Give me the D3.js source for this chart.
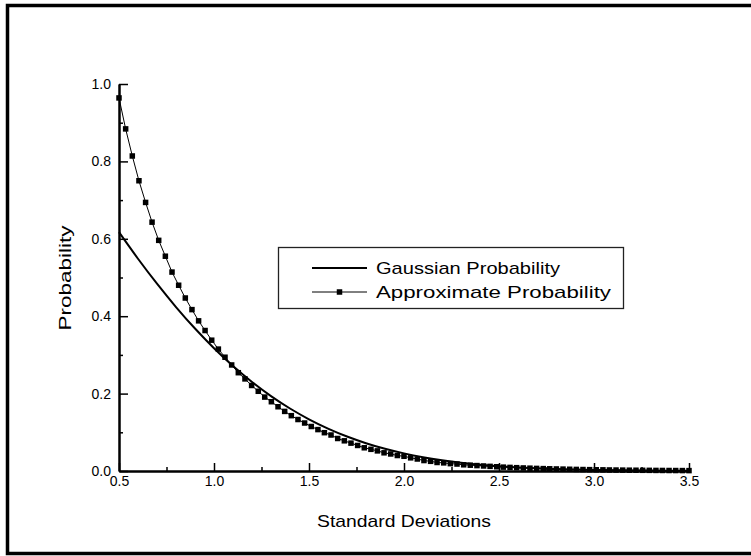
<!DOCTYPE html>
<html>
<head>
<meta charset="utf-8">
<script src="https://cdn.jsdelivr.net/npm/d3@7"></script>
<style>
  html, body { margin: 0; padding: 0; background: #fff; }
  svg { display: block; font-family: "Liberation Sans", Arial, sans-serif; }
</style>
</head>
<body>
<svg id="chart" width="751" height="556"></svg>
<script>
// Two-sided tail probability of a Gaussian, sampled every 0.1 standard deviations
const gaussX = [0.5,0.6,0.7,0.8,0.9,1.0,1.1,1.2,1.3,1.4,1.5,1.6,1.7,1.8,1.9,2.0,2.1,2.2,2.3,2.4,2.5,2.6,2.7,2.8,2.9,3.0,3.1,3.2,3.3,3.4,3.5];
const gaussY = [0.6171,0.5485,0.4839,0.4237,0.3681,0.3173,0.2713,0.2301,0.1936,0.1615,0.1336,0.1096,0.0891,0.0719,0.0574,0.0455,0.0357,0.0278,0.0214,0.0164,0.0124,0.0093,0.0069,0.0051,0.0037,0.0027,0.0019,0.0014,0.0010,0.0007,0.0005];

// Approximate probability, one sample per marker
const approxX = [0.500,0.535,0.570,0.605,0.640,0.674,0.709,0.744,0.779,0.814,0.849,0.884,0.919,0.953,0.988,1.023,1.058,1.093,1.128,1.163,1.198,1.233,1.267,1.302,1.337,1.372,1.407,1.442,1.477,1.512,1.547,1.581,1.616,1.651,1.686,1.721,1.756,1.791,1.826,1.860,1.895,1.930,1.965,2.000,2.035,2.070,2.105,2.140,2.174,2.209,2.244,2.279,2.314,2.349,2.384,2.419,2.453,2.488,2.523,2.558,2.593,2.628,2.663,2.698,2.733,2.767,2.802,2.837,2.872,2.907,2.942,2.977,3.012,3.047,3.081,3.116,3.151,3.186,3.221,3.256,3.291,3.326,3.360,3.395,3.430,3.465,3.500];
const approxY = [0.964,0.884,0.814,0.750,0.694,0.643,0.596,0.555,0.514,0.480,0.447,0.417,0.388,0.363,0.338,0.315,0.294,0.274,0.254,0.238,0.221,0.206,0.191,0.179,0.166,0.154,0.143,0.133,0.124,0.115,0.107,0.099,0.093,0.084,0.078,0.072,0.066,0.060,0.056,0.052,0.047,0.044,0.040,0.038,0.034,0.031,0.027,0.025,0.022,0.021,0.019,0.018,0.016,0.015,0.014,0.013,0.012,0.011,0.010,0.0093,0.0086,0.0079,0.0073,0.0067,0.0062,0.0057,0.0053,0.0049,0.0045,0.0041,0.0038,0.0035,0.0032,0.0030,0.0027,0.0025,0.0023,0.0021,0.0020,0.0018,0.0017,0.0015,0.0014,0.0013,0.0012,0.0011,0.0010];

const xMajor = [0.5,1.0,1.5,2.0,2.5,3.0,3.5];
const xMinor = [0.75,1.25,1.75,2.25,2.75,3.25];
const yMajor = [0.0,0.2,0.4,0.6,0.8,1.0];
const yMinor = [0.1,0.3,0.5,0.7,0.9];
const seriesNames = ["Gaussian Probability","Approximate Probability"];
const xTitle = "Standard Deviations";
const yTitle = "Probability";

const svg = d3.select("#chart");

// outer frame (top, left, bottom edges)
svg.append("path")
  .attr("d","M751,5.5 H7.5 V553.5 H751")
  .attr("fill","none").attr("stroke","#000").attr("stroke-width",3.5);

const x = d3.scaleLinear().domain([0.5,3.5]).range([119,689]);
const y = d3.scaleLinear().domain([0,1]).range([471,84]);

// axes: ticks point into the plot
const xAxisMajor = d3.axisBottom(x).tickValues(xMajor).tickFormat(d3.format(".1f")).tickSizeInner(-8).tickSizeOuter(0).tickPadding(5);
const xAxisMinor = d3.axisBottom(x).tickValues(xMinor).tickFormat("").tickSizeInner(-4).tickSizeOuter(0);
const yAxisMajor = d3.axisLeft(y).tickValues(yMajor).tickFormat(d3.format(".1f")).tickSizeInner(-9).tickSizeOuter(0).tickPadding(8);
const yAxisMinor = d3.axisLeft(y).tickValues(yMinor).tickFormat("").tickSizeInner(-4).tickSizeOuter(0);

function styleAxis(g){
  g.select(".domain").attr("stroke","#000").attr("stroke-width",2);
  g.selectAll(".tick line").attr("stroke","#000").attr("stroke-width",1.5);
  g.selectAll(".tick text").attr("fill","#000").attr("font-size",14).attr("font-family","Liberation Sans, Arial, sans-serif");
}
svg.append("g").attr("transform","translate(0,471)").call(xAxisMinor).call(styleAxis);
svg.append("g").attr("transform","translate(0,471)").call(xAxisMajor).call(styleAxis);
svg.append("g").attr("transform","translate(119,0)").call(yAxisMinor).call(styleAxis);
svg.append("g").attr("transform","translate(119,0)").call(yAxisMajor).call(styleAxis);

// axis titles
svg.append("text").attr("x",404).attr("y",527).attr("text-anchor","middle")
  .attr("font-size",17).attr("textLength",174).attr("lengthAdjust","spacingAndGlyphs").text(xTitle);
svg.append("text").attr("transform","translate(71,278) rotate(-90)").attr("text-anchor","middle")
  .attr("font-size",17).attr("textLength",105).attr("lengthAdjust","spacingAndGlyphs").text(yTitle);

// series
const gaussData = gaussX.map((v,i)=>[v,gaussY[i]]);
const approxData = approxX.map((v,i)=>[v,approxY[i]]);
const line = d3.line().x(d=>x(d[0])).y(d=>y(d[1]));

svg.append("path").datum(approxData)
  .attr("d",line).attr("fill","none").attr("stroke","#000").attr("stroke-width",1);
svg.append("path").datum(gaussData)
  .attr("d",line.curve(d3.curveCatmullRom)).attr("fill","none").attr("stroke","#000").attr("stroke-width",2);

const ms = 5.5;
svg.append("g").selectAll("rect").data(approxData).join("rect")
  .attr("x",d=>x(d[0])-ms/2).attr("y",d=>y(d[1])-ms/2)
  .attr("width",ms).attr("height",ms).attr("fill","#000");

// legend
const lg = svg.append("g");
lg.append("rect").attr("x",278.5).attr("y",247.5).attr("width",345).attr("height",61)
  .attr("fill","#fff").attr("stroke","#222").attr("stroke-width",1.3);
lg.append("line").attr("x1",312).attr("x2",367).attr("y1",268).attr("y2",268).attr("stroke","#000").attr("stroke-width",2);
lg.append("line").attr("x1",312).attr("x2",367).attr("y1",292).attr("y2",292).attr("stroke","#000").attr("stroke-width",1);
lg.append("rect").attr("x",339.5-ms/2).attr("y",292-ms/2).attr("width",ms).attr("height",ms).attr("fill","#000");
lg.append("text").attr("x",376).attr("y",274).attr("font-size",17).attr("textLength",184).attr("lengthAdjust","spacingAndGlyphs").text(seriesNames[0]);
lg.append("text").attr("x",376).attr("y",298).attr("font-size",17).attr("textLength",235).attr("lengthAdjust","spacingAndGlyphs").text(seriesNames[1]);
</script>
</body>
</html>
